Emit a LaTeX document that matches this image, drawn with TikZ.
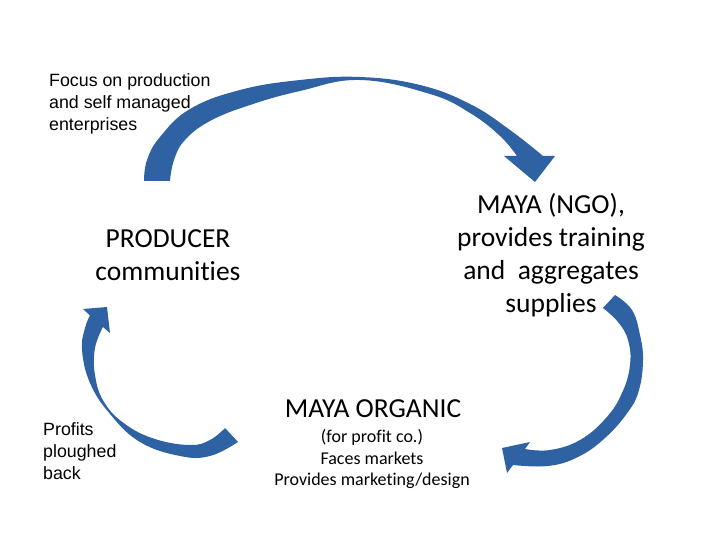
\documentclass[tikz,border=0pt]{standalone}
\usepackage{fontspec}
\setmainfont{Carlito}[Ligatures={NoCommon,NoContextual}]
\newfontfamily\arialfont{Liberation Sans}[Ligatures={NoCommon}]
\definecolor{arrowblue}{RGB}{47,98,163}
\begin{document}
\begin{tikzpicture}[x=1pt,y=-1pt,
  note/.style={font=\arialfont\fontsize{17.8}{22}\selectfont, align=left, inner sep=0pt, anchor=west},
  big/.style={font=\fontsize{27.5}{33}\selectfont, align=center, inner sep=0pt},
  small/.style={font=\fontsize{18}{21.5}\selectfont, align=center, inner sep=0pt},
  blockarrow/.style={fill=arrowblue, draw=none}]
\useasboundingbox (0,0) rectangle (720,540);

% texts
\node[note] (focus) at (49,104) {Focus on production\\and self managed\\enterprises};
\node[note] (profits) at (43,451) {Profits\\ploughed\\back};
\node[big] (producer) at (168,255) {PRODUCER\\communities};
\node[big] (ngo) at (551,255) {MAYA (NGO),\\provides training\\and\ \ aggregates\\supplies};
\node[big] (organic) at (373,409) {MAYA ORGANIC};
\node[small] (orgsub) at (372,459) {(for profit co.)\\Faces markets\\Provides marketing/design};

% top arrow: producer -> NGO
\fill[blockarrow] plot[smooth, tension=0.7] coordinates {(144,181) (147,160) (160,137) (190,109) (240,90) (300,80) (360,77) (420,85) (470,104) (510,130) (543,156)}
  -- (555,156) -- (535,182) -- (504,156) -- (517,156)
  -- plot[smooth, tension=0.7] coordinates {(517,156) (500,136) (470,113) (430,94) (360,80) (300,91) (250,105) (210,121) (185,140) (174,160) (170,181)}
  -- cycle;

% right arrow: NGO -> organic
\fill[blockarrow] plot[smooth, tension=0.7] coordinates {(615,295) (632,310) (640,335) (643,360) (639,390) (628,412) (605,438) (578,457) (548,466) (513,465)}
  -- (507,473) -- (502,448) -- (530,442) -- (525,449)
  -- plot[smooth, tension=0.7] coordinates {(525,449) (550,450) (580,440) (606,418) (622,393) (630,365) (628,340) (618,322) (603,308)}
  -- cycle;

% left arrow: organic -> producer
\fill[blockarrow] plot[smooth, tension=0.7] coordinates {(238,442) (210,456) (180,456) (140,442) (110,414) (90,383) (82,350) (85,328) (90,315.5)}
  -- (83,309) -- (107,307) -- (110,333) -- (103,327)
  -- plot[smooth, tension=0.7] coordinates {(103,327) (95,348) (95,375) (104,402) (125,424) (155,439) (190,445) (210,440) (225,428)}
  -- cycle;
\end{tikzpicture}
\end{document}
